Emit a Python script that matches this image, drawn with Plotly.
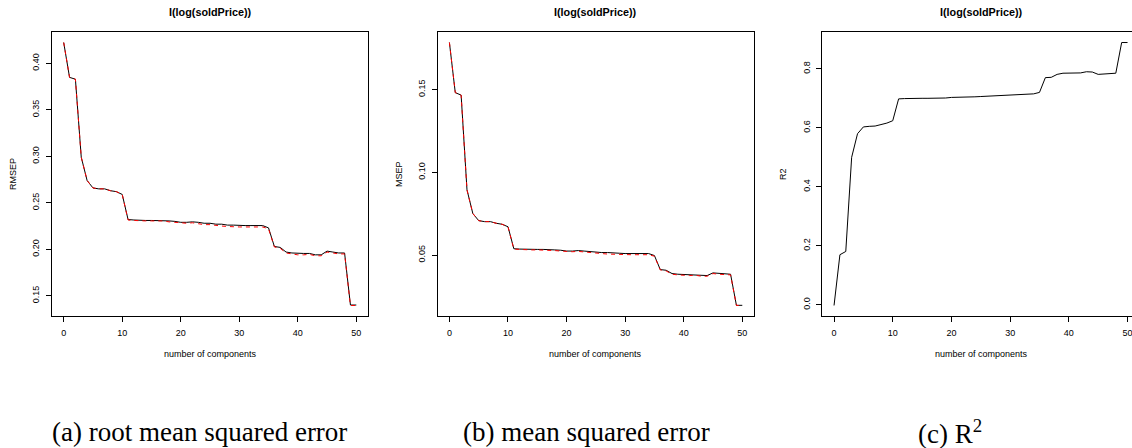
import plotly.graph_objects as go

components = list(range(0, 51))

rmsep_cv = [0.4225, 0.385, 0.383, 0.299, 0.274, 0.266, 0.265, 0.265, 0.263, 0.262, 0.259,
            0.232, 0.2315, 0.231, 0.231, 0.231, 0.231, 0.231, 0.2305, 0.230, 0.229,
            0.229, 0.2295, 0.229, 0.228, 0.228, 0.227, 0.227, 0.226, 0.226, 0.2255,
            0.2255, 0.2255, 0.2255, 0.2255, 0.223, 0.203, 0.202, 0.197, 0.196, 0.1955,
            0.1955, 0.1955, 0.194, 0.194, 0.198, 0.197, 0.196, 0.196, 0.140, 0.140]
rmsep_adj = [0.4225, 0.385, 0.383, 0.299, 0.274, 0.266, 0.265, 0.265, 0.263, 0.262, 0.259,
             0.2315, 0.231, 0.2305, 0.2305, 0.2305, 0.2305, 0.2305, 0.2295, 0.229, 0.228,
             0.228, 0.2285, 0.2275, 0.2265, 0.2265, 0.2255, 0.225, 0.2245, 0.224, 0.224,
             0.224, 0.224, 0.224, 0.224, 0.222, 0.2025, 0.201, 0.196, 0.195, 0.194,
             0.194, 0.1945, 0.193, 0.193, 0.197, 0.196, 0.195, 0.195, 0.1395, 0.1395]

msep_cv = [0.1785, 0.1482, 0.1467, 0.0894, 0.0751, 0.0708, 0.0702, 0.0702, 0.0692, 0.0686, 0.0671,
           0.0538, 0.0536, 0.0534, 0.0534, 0.0534, 0.0534, 0.0534, 0.0531, 0.0529, 0.0524,
           0.0524, 0.0527, 0.0524, 0.0520, 0.0520, 0.0515, 0.0515, 0.0511, 0.0511, 0.0509,
           0.0509, 0.0509, 0.0509, 0.0509, 0.0497, 0.0412, 0.0408, 0.0388, 0.0384, 0.0382,
           0.0382, 0.0382, 0.0376, 0.0376, 0.0392, 0.0388, 0.0384, 0.0384, 0.0196, 0.0196]
msep_adj = [0.1785, 0.1482, 0.1467, 0.0894, 0.0751, 0.0708, 0.0702, 0.0702, 0.0692, 0.0686, 0.0671,
            0.0536, 0.0534, 0.0531, 0.0531, 0.0531, 0.0531, 0.0531, 0.0527, 0.0524, 0.0520,
            0.0520, 0.0522, 0.0518, 0.0513, 0.0513, 0.0509, 0.0506, 0.0504, 0.0502, 0.0502,
            0.0502, 0.0502, 0.0502, 0.0502, 0.0493, 0.0410, 0.0404, 0.0384, 0.0380, 0.0376,
            0.0376, 0.0378, 0.0372, 0.0372, 0.0388, 0.0384, 0.0380, 0.0380, 0.0195, 0.0195]

r2 = [-0.002, 0.170, 0.181, 0.500, 0.580, 0.603, 0.605, 0.606, 0.611, 0.616, 0.624,
      0.698, 0.699, 0.700, 0.700, 0.700, 0.700, 0.700, 0.701, 0.701, 0.703,
      0.703, 0.703, 0.704, 0.705, 0.706, 0.707, 0.708, 0.710, 0.711, 0.713,
      0.713, 0.714, 0.714, 0.715, 0.720, 0.770, 0.771, 0.781, 0.785, 0.786,
      0.786, 0.786, 0.790, 0.789, 0.781, 0.782, 0.784, 0.785, 0.889, 0.889]

x_ticks = [0, 10, 20, 30, 40, 50]
rmsep_ticks = [0.15, 0.20, 0.25, 0.30, 0.35, 0.40]
msep_ticks = [0.05, 0.10, 0.15]
r2_ticks = [0.0, 0.2, 0.4, 0.6, 0.8]

main_title = "I(log(soldPrice))"
x_title = "number of components"
y_titles = ["RMSEP", "MSEP", "R2"]
captions = ["(a) root mean squared error", "(b) mean squared error", "(c) R<sup>2</sup>"]

W, H = 1132, 448
SANS = "Liberation Sans, Arial, Helvetica, sans-serif"
SERIF = "Liberation Serif, Times New Roman, serif"

# panel boxes in pixels (left, right), shared top/bottom
boxes = [(52, 368), (437.7, 754), (822.3, 1132)]
top_px, bot_px = 32, 316
px_per_unit = 5.87


def pad_range(vals):
    lo, hi = min(vals), max(vals)
    s = hi - lo
    return [lo - 0.04 * s, hi + 0.04 * s]


fig = go.Figure()

red_dash = dict(color="#ff0000", width=1, dash="4px,4px")
black = dict(color="black", width=1)

fig.add_trace(go.Scatter(x=components, y=rmsep_cv, mode="lines", line=black, xaxis="x", yaxis="y"))
fig.add_trace(go.Scatter(x=components, y=rmsep_adj, mode="lines", line=red_dash, xaxis="x", yaxis="y"))
fig.add_trace(go.Scatter(x=components, y=msep_cv, mode="lines", line=black, xaxis="x2", yaxis="y2"))
fig.add_trace(go.Scatter(x=components, y=msep_adj, mode="lines", line=red_dash, xaxis="x2", yaxis="y2"))
fig.add_trace(go.Scatter(x=components, y=r2, mode="lines", line=black, xaxis="x3", yaxis="y3"))

yranges = [pad_range(rmsep_cv + rmsep_adj), pad_range(msep_cv + msep_adj), pad_range(r2)]
yticks = [rmsep_ticks, msep_ticks, r2_ticks]
yfmt = [".2f", ".2f", ".1f"]

axis_common = dict(showgrid=False, zeroline=False, showline=True, linecolor="black", linewidth=1,
                   ticks="outside", ticklen=5, tickwidth=1, tickcolor="black",
                   ticklabeloverflow="allow",
                   tickfont=dict(family=SANS, size=9, color="black"))

layout = dict(width=W, height=H, margin=dict(l=0, r=0, t=0, b=0), showlegend=False,
              paper_bgcolor="white", plot_bgcolor="white")

for i, (l, r) in enumerate(boxes):
    sfx = "" if i == 0 else str(i + 1)
    xr_hi = -2 + (r - l) / px_per_unit if i == 2 else 52
    layout["xaxis" + sfx] = dict(domain=[l / W, r / W], range=[-2, xr_hi], tickvals=x_ticks,
                                 anchor="y" + sfx, mirror=True, ticklabelstandoff=3, **axis_common)
    layout["yaxis" + sfx] = dict(domain=[1 - bot_px / H, 1 - top_px / H], range=yranges[i],
                                 tickvals=yticks[i], tickformat=yfmt[i], tickangle=-90,
                                 ticklabelstandoff=3,
                                 anchor="x" + sfx, mirror=(i != 2), **axis_common)

fig.update_layout(**layout)

annotations = []
full_boxes = [(52, 368), (437.7, 754), (822.3, 1140.6)]
ytitle_x = [13, 399, 783]
caption_x = [199, 586, 950]
for i, (l, r) in enumerate(full_boxes):
    cx = (l + r) / 2
    annotations.append(dict(text="<b>" + main_title + "</b>", x=cx / W, y=1 - 11.5 / H, xref="paper", yref="paper",
                            showarrow=False, xanchor="center", yanchor="middle",
                            font=dict(family=SANS, size=10.8, color="black")))
    annotations.append(dict(text=x_title, x=cx / W, y=1 - 354 / H, xref="paper", yref="paper",
                            showarrow=False, xanchor="center", yanchor="middle",
                            font=dict(family=SANS, size=9, color="black")))
    annotations.append(dict(text=y_titles[i], x=ytitle_x[i] / W, y=1 - ((top_px + bot_px) / 2) / H,
                            xref="paper", yref="paper", textangle=-90,
                            showarrow=False, xanchor="center", yanchor="middle",
                            font=dict(family=SANS, size=9, color="black")))
    annotations.append(dict(text=captions[i], x=caption_x[i] / W, y=1 - 432 / H, xref="paper", yref="paper",
                            showarrow=False, xanchor="center", yanchor="middle",
                            font=dict(family=SERIF, size=27, color="black")))

fig.update_layout(annotations=annotations)

fig.write_html("out.html")
